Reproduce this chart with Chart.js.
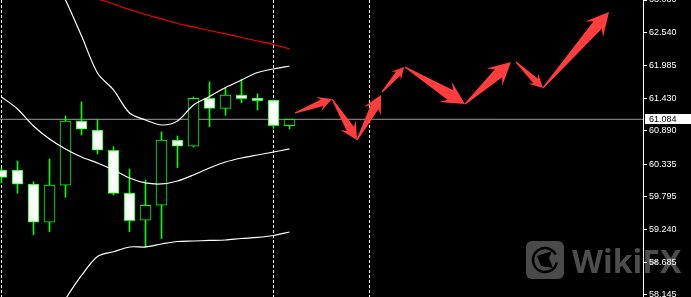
<!DOCTYPE html>
<html>
<head>
<meta charset="utf-8">
<script src="https://cdn.jsdelivr.net/npm/chart.js@4.4.0/dist/chart.umd.min.js"></script>
<style>
  html, body { margin: 0; padding: 0; background: #000; overflow: hidden; }
  #wrap { width: 691px; height: 297px; position: relative; }
</style>
</head>
<body>
<div id="wrap"><canvas id="chart"></canvas></div>
<script>
// ---- data (bar index, price) ----
const OPEN  = [60.236, 60.236, 60.002, 59.361, 59.980, 61.056, 60.905, 60.566, 59.851, 59.395,
               59.646, 60.738, 60.633, 61.436, 61.268, 61.491, 61.441, 61.407, 60.977];
const HIGH  = [60.270, 60.387, 60.040, 60.420, 61.140, 61.374, 61.084, 60.626, 60.253, 60.069,
               60.872, 60.805, 61.458, 61.709, 61.603, 61.754, 61.508, 61.407, 61.084];
const LOW   = [60.019, 59.846, 59.154, 59.204, 59.779, 60.822, 60.504, 59.818, 59.204, 58.943,
               59.090, 60.275, 60.620, 60.961, 61.151, 61.362, 61.240, 60.934, 60.922];
const CLOSE = [60.111, 59.997, 59.361, 59.985, 61.056, 60.917, 60.566, 59.846, 59.388, 59.646,
               60.738, 60.633, 61.436, 61.268, 61.491, 61.429, 61.396, 60.977, 61.084];

const BB_UPPER = [64.252, 64.118, 63.917, 63.582, 63.080, 62.480, 61.859, 61.575, 61.190, 61.073,
                  60.989, 61.056, 61.324, 61.466, 61.616, 61.742, 61.867, 61.926, 61.976];
const BB_MID   = [61.458, 61.257, 60.972, 60.755, 60.588, 60.454, 60.353, 60.236, 60.102, 60.019,
                  60.002, 60.052, 60.153, 60.270, 60.370, 60.437, 60.487, 60.537, 60.588];
const BB_LOWER = [56.890, 57.057, 57.308, 57.643, 58.078, 58.471, 58.789, 58.868, 58.948, 58.948,
                  58.998, 59.040, 59.048, 59.057, 59.065, 59.090, 59.107, 59.140, 59.199];
const MA_RED   = [null, null, null, null, null, 63.181, 63.097, 63.013, 62.921, 62.838,
                  62.763, 62.687, 62.629, 62.570, 62.512, 62.453, 62.394, 62.336, 62.261];

const LAST_PRICE = 61.084;
const Y_TICKS = [63.080, 62.540, 61.985, 61.430, 60.890, 60.335, 59.795, 59.240, 58.685, 58.145];
const SEPARATORS = [0, 17, 23];

// forecast arrows: tail (x0,y0) -> tip (x1,y1), in bar index / price
const ARROW_X0 = [18.34, 20.66, 22.22, 23.78, 25.22, 28.97, 32.16, 33.84];
const ARROW_Y0 = [61.190, 61.424, 60.738, 61.541, 61.959, 61.340, 62.043, 61.608];
const ARROW_X1 = [20.66, 22.22, 23.72, 25.16, 28.97, 31.84, 33.84, 37.97];
const ARROW_Y1 = [61.424, 60.738, 61.491, 61.959, 61.340, 62.043, 61.608, 62.880];

const GREEN = '#00ff00';
const pts = arr => arr.map((v, i) => ({ x: i, y: v })).filter(p => p.y !== null);

/* background + watermark */
const backdrop = {
  id: 'backdrop',
  beforeDraw(chart) {
    const { ctx } = chart;
    ctx.save();
    ctx.fillStyle = '#000';
    ctx.fillRect(0, 0, chart.width, chart.height);
    // WikiFX watermark
    ctx.fillStyle = '#4a4a4a';
    ctx.beginPath();
    ctx.roundRect(526, 241, 38, 38, 6);
    ctx.fill();
    ctx.strokeStyle = '#000';
    ctx.lineWidth = 2.5;
    ctx.beginPath();
    ctx.arc(545, 260, 12, 0.2, Math.PI * 1.85);
    ctx.stroke();
    ctx.fillStyle = '#000';
    ctx.beginPath();
    ctx.moveTo(537, 256); ctx.lineTo(552, 251); ctx.lineTo(549, 258);
    ctx.lineTo(553, 268); ctx.lineTo(541, 266); ctx.closePath();
    ctx.fill();
    ctx.fillStyle = '#4d4d4d';
    ctx.font = 'bold 32px "Open Sans"';
    ctx.textBaseline = 'alphabetic';
    ctx.fillText('WikiFX', 572, 273);
    ctx.restore();
  }
};

/* period separators */
const separators = {
  id: 'separators',
  beforeDatasetsDraw(chart) {
    const { ctx, chartArea: a, scales: { x } } = chart;
    ctx.save();
    ctx.strokeStyle = '#fff';
    ctx.lineWidth = 1;
    ctx.setLineDash([3, 2]);
    SEPARATORS.forEach(i => {
      const px = Math.floor(x.getPixelForValue(i)) + 0.5;
      ctx.beginPath();
      ctx.moveTo(px, a.top);
      ctx.lineTo(px, a.bottom);
      ctx.stroke();
    });
    ctx.restore();
  }
};

/* red forecast arrows */
const arrows = {
  id: 'arrows',
  afterDatasetsDraw(chart) {
    const { ctx, scales: { x, y } } = chart;
    ctx.save();
    ctx.fillStyle = '#ff3d3d';
    ARROW_X0.forEach((_, k) => {
      const x0 = x.getPixelForValue(ARROW_X0[k]), y0 = y.getPixelForValue(ARROW_Y0[k]);
      const x1 = x.getPixelForValue(ARROW_X1[k]), y1 = y.getPixelForValue(ARROW_Y1[k]);
      const L = Math.hypot(x1 - x0, y1 - y0);
      const ux = (x1 - x0) / L, uy = (y1 - y0) / L;
      const nx = -uy, ny = ux;
      const h = Math.min(L * 0.36, 23), hw = h * 0.52, sw = h * 0.24;
      const bx = x1 - ux * h, by = y1 - uy * h;               // barbs
      const qx = x1 - ux * h * 0.75, qy = y1 - uy * h * 0.75; // notch
      ctx.beginPath();
      ctx.moveTo(x0 - nx * 0.6, y0 - ny * 0.6);
      ctx.lineTo(x0 + nx * 0.6, y0 + ny * 0.6);
      ctx.lineTo(qx + nx * sw, qy + ny * sw);
      ctx.lineTo(bx + nx * hw, by + ny * hw);
      ctx.lineTo(x1, y1);
      ctx.lineTo(bx - nx * hw, by - ny * hw);
      ctx.lineTo(qx - nx * sw, qy - ny * sw);
      ctx.closePath();
      ctx.fill();
    });
    ctx.restore();
  }
};

/* current price tag on the axis */
const priceTag = {
  id: 'priceTag',
  afterDraw(chart) {
    const { ctx, chartArea: a, scales: { y } } = chart;
    const py = Math.round(y.getPixelForValue(LAST_PRICE));
    ctx.save();
    ctx.fillStyle = '#fff';
    ctx.fillRect(a.right + 2, py - 5, 46, 10);
    ctx.fillStyle = '#000';
    ctx.font = '9px "Liberation Sans"';
    ctx.textBaseline = 'middle';
    ctx.fillText(LAST_PRICE.toFixed(3), a.right + 6, py + 0.5);
    ctx.restore();
  }
};

new Chart(document.getElementById('chart'), {
  type: 'bar',
  data: {
    datasets: [
      { type: 'line', data: pts(BB_UPPER), borderColor: '#fff', borderWidth: 1.2, pointRadius: 0, tension: 0.3, order: 0 },
      { type: 'line', data: pts(BB_MID),   borderColor: '#fff', borderWidth: 1.2, pointRadius: 0, tension: 0.3, order: 0 },
      { type: 'line', data: pts(BB_LOWER), borderColor: '#fff', borderWidth: 1.2, pointRadius: 0, tension: 0.3, order: 0 },
      { type: 'line', data: pts(MA_RED),   borderColor: '#ff0000', borderWidth: 1.2, pointRadius: 0, tension: 0.3, order: 0 },
      {
        data: OPEN.map((o, i) => ({ x: i, y: [o, CLOSE[i]] })),
        backgroundColor: OPEN.map((o, i) => CLOSE[i] < o ? '#ffffff' : '#000000'),
        borderColor: GREEN, borderWidth: 1, borderSkipped: false,
        barThickness: 11, grouped: false, order: 1
      },
      {
        data: LOW.map((l, i) => ({ x: i, y: [l, HIGH[i]] })),
        backgroundColor: GREEN, borderWidth: 0,
        barThickness: 1, grouped: false, order: 2
      },
      {
        type: 'line', data: [{ x: -1, y: LAST_PRICE }, { x: 41, y: LAST_PRICE }],
        borderColor: '#9b9b9b', borderWidth: 1, pointRadius: 0, order: 3
      }
    ]
  },
  options: {
    responsive: true,
    maintainAspectRatio: false,
    animation: false,
    devicePixelRatio: 1,
    layout: { padding: 0 },
    plugins: { legend: { display: false }, tooltip: { enabled: false } },
    scales: {
      x: { type: 'linear', display: false, offset: false, min: -0.09375, max: 40.09375 },
      y: {
        type: 'linear', position: 'right', min: 58.111, max: 63.080,
        afterBuildTicks: s => { s.ticks = Y_TICKS.map(v => ({ value: v })); },
        afterFit: s => { s.width = 48; s.paddingTop = 0; s.paddingBottom = 0; },
        ticks: {
          autoSkip: false, color: '#fff', padding: 2,
          font: { family: 'Liberation Sans', size: 9 },
          callback: v => Number(v).toFixed(3)
        },
        grid: { drawOnChartArea: false, drawTicks: true, tickLength: 4, color: '#fff' },
        border: { display: true, color: '#fff', width: 1 }
      }
    }
  },
  plugins: [backdrop, separators, arrows, priceTag]
});
</script>
</body>
</html>
